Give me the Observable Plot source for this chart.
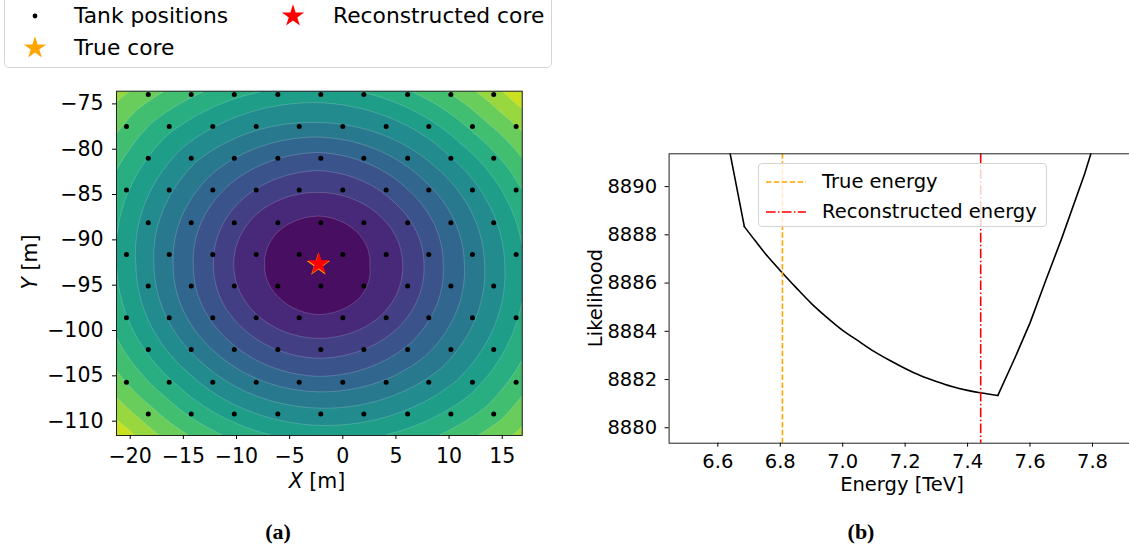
<!DOCTYPE html>
<html><head><meta charset="utf-8">
<script src="https://cdn.jsdelivr.net/npm/d3@7"></script>
<script src="https://cdn.jsdelivr.net/npm/@observablehq/plot@0.6"></script>
<style>
html,body{margin:0;padding:0;background:#fff;overflow:hidden;}
#root{position:relative;width:1129px;height:552px;font-family:"DejaVu Sans",sans-serif;color:#000;overflow:hidden;}
.abs{position:absolute;white-space:nowrap;line-height:1;}
.abs svg{display:block;}
</style></head><body><div id="root"></div>
<script>
// ---------- Panel (a) data ----------
const tankRowY = [-73.97, -77.5, -81.0, -84.5, -88.1, -91.6, -95.1, -98.6, -102.1, -105.7, -109.2];
const tankEvenRowX = [-18.3, -14.26, -10.21, -6.11, -2.07, 1.98, 6.1, 10.17, 14.2];
const tankOddRowX = [-20.35, -16.33, -12.23, -8.15, -4.1, 0, 4.08, 8.09, 12.2, 16.31];
const trueCore = {x: -2.3, y: -92.75};
const recoCore = {x: -2.26, y: -92.66};
const contourCenter = {x: -2.26, y: -92.76};
// contour boundary radii (m) read along 8 directions: E, NE, N, NW, W, SW, S, SE
const ringDirections = [0, 45, 90, 135, 180, 225, 270, 315];
const ringRadiiE  = [4.8, 7.9, 9.9, 11.7, 13.7, 15.6, 17.5, 19.3, 21.1, 22.9, 24.7, 26.5, 28.3, 30.1];
const ringRadiiNE = [5.1, 7.9, 9.9, 11.8, 13.6, 15.4, 17.2, 18.9, 20.6, 22.3, 24.0, 25.7, 27.4, 29.2];
const ringRadiiN  = [5.4, 8.0, 10.4, 12.4, 14.1, 15.7, 17.9, 19.7, 21.5, 23.3, 25.1, 26.9, 28.7, 30.5];
const ringRadiiNW = [5.3, 8.1, 10.2, 12.2, 14.2, 16.2, 18.2, 20.2, 22.2, 24.2, 26.2, 28.2, 30.2, 32.2];
const ringRadiiW  = [5.1, 8.0, 9.9, 11.8, 13.7, 15.5, 17.2, 19.0, 20.8, 22.6, 24.4, 26.2, 28.0, 29.8];
const ringRadiiSW = [5.2, 8.0, 10.0, 11.9, 13.7, 15.4, 17.1, 18.8, 20.5, 22.2, 23.9, 25.5, 27.1, 28.8];
const ringRadiiS  = [5.5, 8.1, 10.3, 12.3, 14.0, 15.8, 17.7, 19.5, 21.3, 23.1, 24.9, 26.7, 28.5, 30.3];
const ringRadiiSE = [5.3, 8.1, 10.2, 12.2, 14.2, 16.2, 18.2, 20.2, 22.2, 24.2, 26.2, 28.2, 30.2, 32.2];
const contourLevels = [0, 1, 2, 3, 4, 5, 6, 7, 8, 9, 10, 11, 12, 13, 14];
const xDomainA = [-21.29, 16.88];
const yDomainA = [-111.58, -73.6];
const xTicksA = [-20, -15, -10, -5, 0, 5, 10, 15];
const yTicksA = [-75, -80, -85, -90, -95, -100, -105, -110];

// ---------- Panel (b) data ----------
const energy = [6.63, 6.685, 6.72, 6.76, 6.805, 6.85, 6.9, 6.95, 7.0, 7.05, 7.1, 7.15, 7.2, 7.25, 7.3, 7.35, 7.4, 7.44, 7.497, 7.55, 7.6, 7.65, 7.7, 7.775, 7.81];
const likelihood = [8892.0, 8888.34, 8887.75, 8887.1, 8886.45, 8885.82, 8885.15, 8884.57, 8884.04, 8883.6, 8883.17, 8882.8, 8882.46, 8882.16, 8881.92, 8881.71, 8881.55, 8881.45, 8881.34, 8882.85, 8884.35, 8886.1, 8887.8, 8890.53, 8892.0];
const arcStart = 1, arcEnd = 18; // smooth section between the two kinks
const trueEnergy = 6.807;
const recoEnergy = 7.442;
const xDomainB = [6.444, 7.925];
const yDomainB = [8879.36, 8891.36];
const xTicksB = [6.6, 6.8, 7.0, 7.2, 7.4, 7.6, 7.8];
const yTicksB = [8880, 8882, 8884, 8886, 8888, 8890];

// ---------- build tables ----------
const tanks = [];
tankRowY.forEach((y, i) => (i % 2 === 0 ? tankEvenRowX : tankOddRowX).forEach(x => tanks.push({x, y})));
const curve = energy.map((e, i) => ({e, l: likelihood[i], i}));
const ringRadii = [ringRadiiE, ringRadiiNE, ringRadiiN, ringRadiiNW, ringRadiiW, ringRadiiSW, ringRadiiS, ringRadiiSE];

function levelAt(x, y) {
  const dx = x - contourCenter.x, dy = y - contourCenter.y;
  const r = Math.hypot(dx, dy);
  let a = Math.atan2(dy, dx) * 180 / Math.PI; if (a < 0) a += 360;
  const i = Math.floor(a / 45) % 8, j = (i + 1) % 8, t = (a - ringDirections[i]) / 45;
  const radii = ringRadii[i].map((v, k) => v * (1 - t) + ringRadii[j][k] * t);
  const pts = [0, ...radii];
  for (let k = 1; k < pts.length; k++) if (r <= pts[k]) return k - 1 + (r - pts[k - 1]) / (pts[k] - pts[k - 1]);
  return pts.length - 1 + (r - pts[pts.length - 1]) / 1.8;
}

const minusFmt = d => (d < 0 ? "\u2212" : "") + Math.abs(d);
const root = document.getElementById("root");
function place(el, css) { const d = document.createElement("div"); d.className = "abs"; Object.assign(d.style, css); if (typeof el === "string") d.innerHTML = el; else d.appendChild(el); root.appendChild(d); return d; }

// ---------- panel (a) ----------
const plotA = Plot.plot({
  width: 560, height: 552,
  marginLeft: 116, marginRight: 560 - 521.7, marginTop: 90.7, marginBottom: 552 - 435,
  x: {domain: xDomainA}, y: {domain: yDomainA},
  color: {type: "linear", scheme: "viridis", domain: [-0.5, 13.1], clamp: true},
  style: {fontFamily: "DejaVu Sans", fontSize: "20.5px", background: "transparent", maxWidth: "none", overflow: "visible"},
  marks: [
    Plot.contour({fill: levelAt, x1: xDomainA[0], x2: xDomainA[1], y1: yDomainA[0], y2: yDomainA[1],
      thresholds: contourLevels, pixelSize: 1, stroke: "white", strokeOpacity: 0.3, strokeWidth: 0.6}),
    Plot.dot(tanks, {x: "x", y: "y", r: 2.5, fill: "black"}),
    Plot.dot([trueCore], {x: "x", y: "y", symbol: "star", r: 7.3, fill: "orange"}),
    Plot.dot([recoCore], {x: "x", y: "y", symbol: "star", r: 7, fill: "red"}),
    Plot.frame({stroke: "#222", strokeWidth: 1}),
    Plot.axisX({ticks: xTicksA, tickFormat: minusFmt, tickSize: 4, tickPadding: 9, label: null}),
    Plot.axisY({ticks: yTicksA, tickFormat: minusFmt, tickSize: 4, tickPadding: 9, label: null})
  ]
});
place(plotA, {left: "0px", top: "0px"});

// ---------- panel (b) ----------
const plotB = Plot.plot({
  width: 571, height: 552,
  marginLeft: 108.6, marginRight: 0, marginTop: 153.3, marginBottom: 552 - 442.7,
  x: {domain: xDomainB}, y: {domain: yDomainB},
  style: {fontFamily: "DejaVu Sans", fontSize: "19.5px", background: "transparent", maxWidth: "none", overflow: "visible"},
  marks: [
    Plot.line(curve, {filter: d => d.i <= arcStart, x: "e", y: "l", stroke: "black", strokeWidth: 1.6, clip: true}),
    Plot.line(curve, {filter: d => d.i >= arcStart && d.i <= arcEnd, x: "e", y: "l", stroke: "black", strokeWidth: 1.6, curve: "catmull-rom", clip: true}),
    Plot.line(curve, {filter: d => d.i >= arcEnd, x: "e", y: "l", stroke: "black", strokeWidth: 1.6, clip: true}),
    Plot.ruleX([trueEnergy], {stroke: "orange", strokeWidth: 1.6, strokeDasharray: "5.5,2.4"}),
    Plot.ruleX([recoEnergy], {stroke: "red", strokeWidth: 1.6, strokeDasharray: "9.6,2.4,1.5,2.4"}),
    Plot.frame({stroke: "#222", strokeWidth: 1}),
    Plot.axisX({ticks: xTicksB, tickFormat: d3.format(".1f"), tickSize: 4, tickPadding: 7, label: null}),
    Plot.axisY({ticks: yTicksB, tickFormat: d3.format("d"), tickSize: 4, tickPadding: 8, label: null})
  ]
});
place(plotB, {left: "560px", top: "0px"});

// ---------- axis labels & captions ----------
const lab = {fontFamily: "DejaVu Sans", transform: "translate(-50%,-50%)"};
place("<i>X</i> [m]", {...lab, left: "317px", top: "481px", fontSize: "20.5px"});
place("<i>Y</i> [m]", {...lab, left: "30px", top: "262px", fontSize: "20.5px", transform: "translate(-50%,-50%) rotate(-90deg)"});
place("Energy [TeV]", {...lab, left: "902px", top: "485px", fontSize: "19.5px"});
place("Likelihood", {...lab, left: "596px", top: "298px", fontSize: "19.5px", transform: "translate(-50%,-50%) rotate(-90deg)"});
const cap = {fontFamily: "'Liberation Serif', serif", fontWeight: "bold", fontSize: "22px", transform: "translate(-50%,-50%)"};
place("(a)", {...cap, left: "278px", top: "532px"});
place("(b)", {...cap, left: "861px", top: "532px"});

// ---------- legend (a) ----------
const star = s => `<svg width="30" height="30" viewBox="-15 -15 30 30"><path d="${d3.symbol(d3.symbolStar, Math.PI * 49)()}" fill="${s}"/></svg>`;
place("", {left: "4px", top: "-6px", width: "548px", height: "74px", border: "1px solid #d4d4d4", borderRadius: "5px", background: "#fff", boxSizing: "border-box"});
place(`<svg width="8" height="8"><circle cx="4" cy="4" r="2.4" fill="black"/></svg>`, {left: "31px", top: "12px"});
place(star("orange"), {left: "20px", top: "33px"});
place(star("red"), {left: "278px", top: "1px"});
const legTxt = {fontSize: "21.8px", transform: "translateY(-50%)"};
place("Tank positions", {...legTxt, left: "74px", top: "16px"});
place("True core", {...legTxt, left: "74px", top: "48px"});
place("Reconstructed core", {...legTxt, left: "333px", top: "16px"});

// ---------- legend (b) ----------
place("", {left: "757.7px", top: "163.3px", width: "289px", height: "64px", border: "1px solid #d4d4d4", borderRadius: "4px", background: "rgba(255,255,255,0.8)", boxSizing: "border-box"});
place(`<svg width="40" height="4"><line x1="0" y1="2" x2="40" y2="2" stroke="orange" stroke-width="1.6" stroke-dasharray="5.5,2.4"/></svg>`, {left: "766px", top: "179.7px"});
place(`<svg width="40" height="4"><line x1="0" y1="2" x2="40" y2="2" stroke="red" stroke-width="1.6" stroke-dasharray="9.6,2.4,1.5,2.4"/></svg>`, {left: "766px", top: "209.7px"});
const legTxtB = {fontSize: "19.5px", transform: "translateY(-50%)"};
place("True energy", {...legTxtB, left: "822px", top: "181.7px"});
place("Reconstructed energy", {...legTxtB, left: "822px", top: "211.7px"});
</script></body></html>
